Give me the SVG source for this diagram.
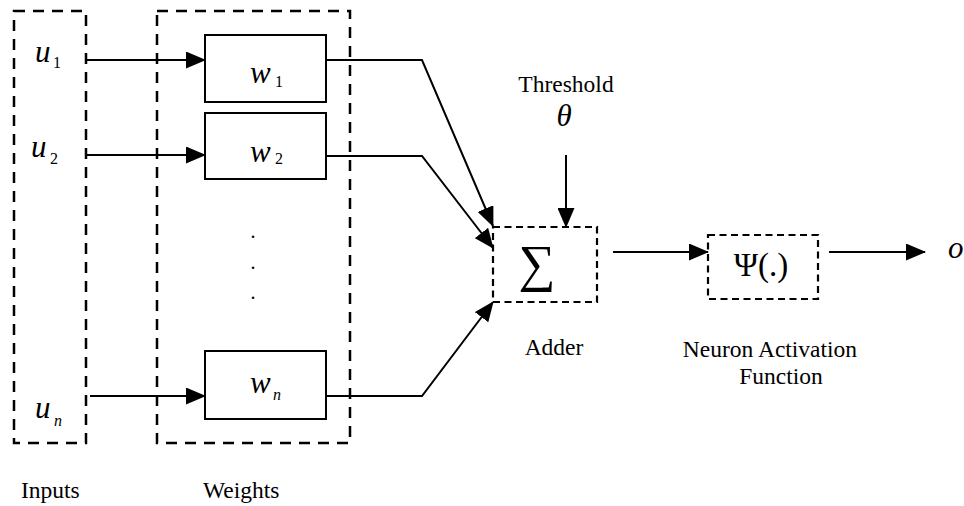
<svg xmlns="http://www.w3.org/2000/svg" width="964" height="506" viewBox="0 0 964 506">
<style>
.bg{fill:#fff}
.dbig{fill:none;stroke:#000;stroke-width:2.5;stroke-dasharray:11 8}
.dsm{fill:none;stroke:#000;stroke-width:2.2;stroke-dasharray:7 4.5}
.box{fill:#fff;stroke:#000;stroke-width:2}
.ln{fill:none;stroke:#000;stroke-width:2;marker-end:url(#ah)}
.t{font-family:"Liberation Serif","Times New Roman",serif;font-size:23.5px;fill:#000}
.m{font-family:"Liberation Serif","Times New Roman",serif;font-style:italic;font-size:31px;fill:#000}
.s{font-family:"Liberation Serif","Times New Roman",serif;font-size:16px;fill:#000}
.si{font-family:"Liberation Serif","Times New Roman",serif;font-style:italic;font-size:16px;fill:#000}
.c{text-anchor:middle}
</style>
<defs>
<marker id="ah" markerUnits="userSpaceOnUse" viewBox="0 0 20 17" refX="19" refY="8.5" markerWidth="20" markerHeight="17" orient="auto">
<path d="M0,0 L20,8.5 L0,17 z" fill="#000"/>
</marker>
</defs>
<rect class="bg" x="0" y="0" width="964" height="506"/>

<g id="inputs">
<rect class="dbig" x="14" y="11" width="72" height="432"/>
<text class="m" x="35" y="62">u</text><text class="s" x="53" y="68">1</text>
<text class="m" x="31" y="157">u</text><text class="s" x="50" y="164">2</text>
<text class="m" x="35" y="418">u</text><text class="si" x="54" y="426">n</text>
<text class="t" x="21" y="498">Inputs</text>
</g>

<g id="weights">
<rect class="dbig" x="157" y="11" width="193" height="432"/>
<text class="t" x="203" y="498">Weights</text>
<text class="t c" x="253" y="238" style="font-size:20px">.</text>
<text class="t c" x="253" y="269" style="font-size:20px">.</text>
<text class="t c" x="253" y="299" style="font-size:20px">.</text>
</g>

<g id="w1">
<rect class="box" x="205" y="35" width="121" height="67"/>
<text class="m" x="250" y="83">w</text><text class="s" x="275" y="87">1</text>
</g>
<g id="w2">
<rect class="box" x="205" y="113" width="121" height="66"/>
<text class="m" x="250" y="162">w</text><text class="s" x="275" y="164">2</text>
</g>
<g id="wn">
<rect class="box" x="205" y="351" width="121" height="68"/>
<text class="m" x="250" y="393">w</text><text class="si" x="273" y="400">n</text>
</g>

<g id="adder">
<rect class="dsm" x="493" y="227" width="104" height="75"/>
<text class="c" x="537" y="281" style="font-family:'Liberation Serif','DejaVu Serif',serif;font-size:52px">∑</text>
<text class="t c" x="554" y="355">Adder</text>
</g>

<g id="threshold">
<text class="t c" x="566" y="92">Threshold</text>
<text class="m c" x="564" y="126">θ</text>
</g>

<g id="activation">
<rect class="dsm" x="708" y="235" width="110" height="64"/>
<text class="c" x="761" y="276" style="font-family:'Liberation Serif','Times New Roman',serif;font-size:33px">Ψ(.)</text>
<text class="t c" x="770" y="357">Neuron Activation</text>
<text class="t c" x="781" y="384">Function</text>
</g>

<g id="output">
<text class="m" x="948" y="258">o</text>
</g>

<g id="connectors">
<path class="ln" d="M86,60 H205"/>
<path class="ln" d="M86,155 H205"/>
<path class="ln" d="M90,396 H205"/>
<path class="ln" d="M326,60 H422 L493,226"/>
<path class="ln" d="M326,156 H422 L493,248"/>
<path class="ln" d="M326,396 H422 L493,302"/>
<path class="ln" d="M566,155 V227"/>
<path class="ln" d="M613,252 H708"/>
<path class="ln" d="M829,252 H925"/>
</g>
</svg>
